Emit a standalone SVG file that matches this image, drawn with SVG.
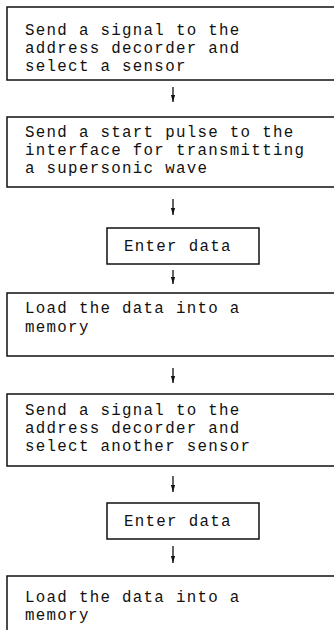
<svg xmlns="http://www.w3.org/2000/svg" width="334" height="630" viewBox="0 0 334 630">
<style>
.box{fill:none;stroke:#111;stroke-width:1.5}
.t{font-family:"Liberation Mono","DejaVu Sans Mono",monospace;font-size:15.8px;letter-spacing:1.3px;fill:#111}
.c{stroke:#111;stroke-width:1.3;fill:none;marker-end:url(#ah)}
</style>
<defs>
<marker id="ah" markerWidth="7" markerHeight="6" refX="7" refY="3" orient="auto" markerUnits="userSpaceOnUse" viewBox="0 0 7 6">
<path d="M0,0.9 L7,3 L0,5.1 Z" fill="#111"/>
</marker>
</defs>
<rect width="334" height="630" fill="#fff"/>
<g id="connectors">
<line class="c" x1="173" y1="87" x2="173" y2="102"/>
<line class="c" x1="173" y1="199" x2="173" y2="215"/>
<line class="c" x1="173" y1="270" x2="173" y2="284"/>
<line class="c" x1="173" y1="368" x2="173" y2="383"/>
<line class="c" x1="173" y1="476" x2="173" y2="492"/>
<line class="c" x1="173" y1="546" x2="173" y2="563"/>
</g>
<g id="n1">
<rect class="box" x="7" y="7" width="340" height="73"/>
<text class="t" x="25" y="35">Send a signal to the</text>
<text class="t" x="25" y="53">address decorder and</text>
<text class="t" x="25" y="71">select a sensor</text>
</g>
<g id="n2">
<rect class="box" x="7" y="117" width="340" height="70"/>
<text class="t" x="25" y="137">Send a start pulse to the</text>
<text class="t" x="25" y="155">interface for transmitting</text>
<text class="t" x="25" y="173">a supersonic wave</text>
</g>
<g id="n3">
<rect class="box" x="107" y="228" width="152" height="36"/>
<text class="t" x="124" y="251">Enter data</text>
</g>
<g id="n4">
<rect class="box" x="7" y="293" width="340" height="63"/>
<text class="t" x="25" y="313">Load the data into a</text>
<text class="t" x="25" y="332">memory</text>
</g>
<g id="n5">
<rect class="box" x="7" y="394" width="340" height="72"/>
<text class="t" x="25" y="415">Send a signal to the</text>
<text class="t" x="25" y="433">address decorder and</text>
<text class="t" x="25" y="451">select another sensor</text>
</g>
<g id="n6">
<rect class="box" x="107" y="503" width="152" height="36"/>
<text class="t" x="124" y="526">Enter data</text>
</g>
<g id="n7">
<path class="box" d="M7,640 V576 H347"/>
<text class="t" x="25" y="602">Load the data into a</text>
<text class="t" x="25" y="620">memory</text>
</g>
</svg>
